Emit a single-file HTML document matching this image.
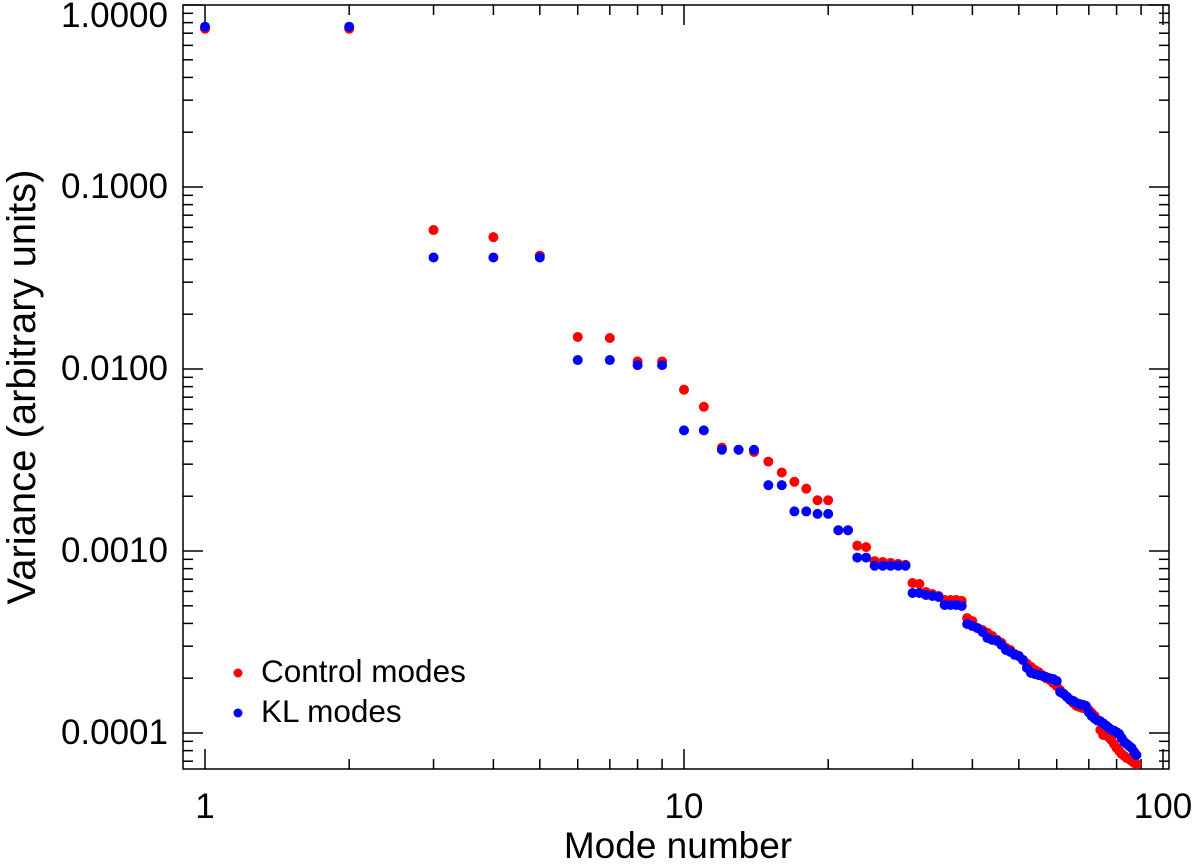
<!DOCTYPE html>
<html><head><meta charset="utf-8"><style>
html,body{margin:0;padding:0;background:#fff;}
svg text{font-family:"Liberation Sans",sans-serif;fill:#000;}
</style></head><body>
<svg id="chart" width="1200" height="860" viewBox="0 0 1200 860" xmlns="http://www.w3.org/2000/svg">
<g id="axes"></g>
<g id="marks"></g>
<text x="678" y="858" font-size="37" text-anchor="middle">Mode number</text>
<text transform="translate(35,387) rotate(-90)" font-size="40" text-anchor="middle">Variance (arbitrary units)</text>
<g>
<circle cx="238" cy="673" r="4.5" fill="#ff0000"/>
<text x="261" y="682" font-size="31.5">Control modes</text>
<circle cx="238" cy="713" r="4.5" fill="#0000ff"/>
<text x="261" y="722" font-size="31.5">KL modes</text>
</g>
</svg>
<script>
const controlVariance=[0.74,0.74,0.058,0.053,0.042,0.015,0.0148,0.011,0.011,0.0077,0.0062,0.0037,0.0036,0.0035,0.0031,0.0027,0.0024,0.0022,0.0019,0.0019,0.0013,0.0013,0.00107,0.00105,0.00088,0.00087,0.00086,0.00085,0.00084,
0.000667,0.000659,0.000595,0.00058,0.000566,0.000538,0.000538,0.000538,0.000532,0.000428,0.000412,0.000377,0.000368,0.000355,0.000341,0.000325,0.000313,0.000294,0.000286,0.000272,0.000265,0.000252,0.00024,0.000231,0.000222,0.000216,0.000208,0.0002,0.000196,0.000188,0.000181,0.000172,0.000164,0.000158,0.000152,0.000146,0.000141,0.000139,0.000137,0.000137,0.000134,0.000129,0.000124,0.000118,0.000104,0.0000975,0.0000975,0.000095,0.0000915,0.000087,0.0000827,0.0000797,0.0000767,0.0000748,0.0000729,0.000072,0.0000702,0.0000685,0.0000676];
const klVariance=[0.76,0.76,0.041,0.041,0.041,0.0112,0.0112,0.0105,0.0105,0.0046,0.0046,0.0036,0.0036,0.0036,0.0023,0.0023,0.00165,0.00165,0.0016,0.0016,0.0013,0.0013,0.00092,0.00092,0.00083,0.00083,0.00083,0.00083,0.00083,
0.000588,0.000588,0.000573,0.000566,0.000559,0.000505,0.000505,0.000505,0.000499,0.000397,0.000387,0.000377,0.000359,0.000333,0.000325,0.000321,0.000305,0.000286,0.000279,0.000269,0.000265,0.000252,0.000228,0.000214,0.000211,0.000208,0.000206,0.000203,0.0002,0.000198,0.000193,0.000168,0.000164,0.000158,0.000152,0.00015,0.000146,0.000144,0.000143,0.000141,0.00013,0.000124,0.00012,0.000117,0.000116,0.000113,0.00011,0.000107,0.000104,0.000103,0.000101,0.0000987,0.0000938,0.0000892,0.000087,0.0000848,0.0000827,0.0000787,0.0000757];
const xTickLabels=["1","10","100"];
const xTickValues=[1,10,100];
const yTickLabels=["1.0000","0.1000","0.0100","0.0010","0.0001"];
const yTickValues=[1,0.1,0.01,0.001,0.0001];

const L=183,R=1169,T=5,B=769;
const xDec=479, x1=205;
const yDec=182, y1=5;
function xs(v){return x1+xDec*Math.log10(v);}
function ys(v){return y1-yDec*Math.log10(v);}
const NS="http://www.w3.org/2000/svg";
const axes=document.getElementById('axes');
const marks=document.getElementById('marks');
function mk(tag,attrs,parent){const e=document.createElementNS(NS,tag);for(const k in attrs)e.setAttribute(k,attrs[k]);parent.appendChild(e);return e;}
const frame=mk('rect',{x:L,y:T,width:R-L,height:B-T,fill:'none',stroke:'#000','stroke-width':1.5},axes);


for(let d=0;d<=2;d++){for(let m=1;m<=9;m++){const v=m*Math.pow(10,d);const x=xs(v);if(x<L||x>R)continue;const len=m===1?20:10;
const t1=mk('line',{x1:x,y1:B,x2:x,y2:B-len,stroke:'#000','stroke-width':1.5},axes);


const t2=mk('line',{x1:x,y1:T,x2:x,y2:T+len,stroke:'#000','stroke-width':1.5},axes);

}}
xTickValues.forEach((v,i)=>{const t=mk('text',{x:xs(v),y:818,'font-size':35,'text-anchor':'middle'},axes);t.textContent=xTickLabels[i];

});
for(let d=-5;d<=0;d++){for(let m=1;m<=9;m++){const v=m*Math.pow(10,d);const y=ys(v);if(y<T-0.5||y>B)continue;const len=m===1?20:10;
const t1=mk('line',{x1:L,y1:y,x2:L+len,y2:y,stroke:'#000','stroke-width':1.5},axes);


const t2=mk('line',{x1:R,y1:y,x2:R-len,y2:y,stroke:'#000','stroke-width':1.5},axes);

}}
yTickValues.forEach((v,i)=>{const t=mk('text',{x:168,y:ys(v)+11+(i===0?11:0),'font-size':35,'text-anchor':'end'},axes);t.textContent=yTickLabels[i];

});
controlVariance.forEach((v,i)=>{const c=mk('circle',{cx:xs(i+1),cy:ys(v),r:5,fill:'#ff0000'},marks);

});
klVariance.forEach((v,i)=>{const c=mk('circle',{cx:xs(i+1),cy:ys(v),r:5,fill:'#0000ff'},marks);

});
</script>
</body></html>
